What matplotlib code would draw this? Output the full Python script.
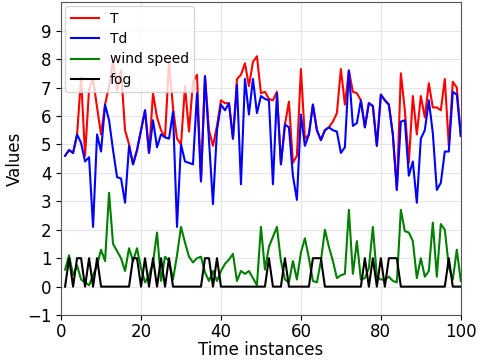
import matplotlib
matplotlib.use("Agg")
import matplotlib.pyplot as plt

# time instances 1..100
time_idx = list(range(1, 101))

T = [4.6, 4.8, 4.7, 5.35, 7.35, 4.6, 6.95, 7.3, 6.3, 5.35,
     6.4, 7.05, 7.95, 6.9, 7.6, 5.5, 5.0, 4.3, 4.8, 5.5,
     6.2, 4.7, 6.8, 5.95, 5.5, 5.25, 7.9, 6.3, 5.2, 5.0,
     7.05, 5.45, 7.2, 7.45, 3.7, 7.4, 5.5, 4.95, 5.65, 6.55,
     6.45, 6.45, 5.2, 7.3, 7.45, 7.85, 7.05, 7.9, 8.1, 6.8,
     6.85, 6.6, 6.55, 6.85, 4.3, 5.7, 6.5, 4.35, 4.6, 7.65,
     5.2, 5.35, 6.4, 5.5, 5.15, 5.5, 5.6, 5.8, 6.1, 7.65,
     6.4, 7.6, 6.85, 6.8, 6.55, 5.6, 6.45, 6.35, 4.95, 6.75,
     6.55, 6.4, 5.35, 3.4, 7.5, 6.2, 4.35, 6.7, 5.35, 6.7,
     5.95, 7.15, 6.3, 6.3, 6.2, 7.3, 4.95, 7.2, 7.0, 5.3]

Td = [4.6, 4.8, 4.7, 5.35, 5.05, 4.4, 4.55, 2.1, 5.35, 4.75,
      6.4, 5.85, 4.8, 3.85, 3.8, 2.95, 4.95, 4.3, 4.8, 5.5,
      6.2, 4.7, 5.85, 4.9, 5.35, 5.25, 5.2, 6.15, 2.1, 5.0,
      4.4, 4.35, 4.3, 6.8, 3.7, 7.4, 5.15, 2.9, 5.5, 6.4,
      6.2, 6.45, 5.2, 7.1, 3.6, 7.3, 6.05, 7.3, 6.1, 6.7,
      6.6, 6.55, 3.6, 6.8, 4.3, 5.7, 5.6, 3.9, 3.05, 6.05,
      4.95, 5.35, 6.4, 5.5, 5.15, 5.5, 5.6, 5.5, 5.45, 4.7,
      4.9, 7.6, 5.65, 5.75, 6.55, 5.6, 6.45, 6.35, 4.95, 6.75,
      6.55, 6.4, 5.35, 3.4, 5.8, 5.85, 3.9, 4.4, 2.95, 5.2,
      5.5, 6.55, 5.4, 3.4, 3.65, 4.75, 4.75, 6.85, 6.75, 5.3]

wind_speed = [0.6, 1.1, 0.4, 0.75, 0.25, 0.15, 0.05, 0.4, 0.75, 1.3,
              0.9, 3.3, 1.5, 1.25, 1.0, 0.55, 1.35, 0.9, 1.35, 0.65,
              0.15, 0.4, 0.85, 1.9, 0.2, 1.05, 0.9, 0.25, 1.1, 2.1,
              1.55, 1.05, 0.85, 1.0, 1.05, 0.5, 0.2, 0.55, 0.2, 0.55,
              0.8, 0.95, 1.15, 0.2, 0.55, 0.45, 0.55, 0.3, 0.05, 2.1,
              0.6, 1.4, 1.75, 2.1, 0.9, 0.25, 0.15, 0.9, 0.25, 1.2,
              1.7, 1.0, 0.2, 0.15, 0.9, 2.0, 1.4, 0.9, 0.3, 0.4,
              0.45, 2.7, 0.45, 1.6, 0.25, 0.3, 0.65, 2.1, 0.35, 0.25,
              0.25, 0.35, 0.2, 0.15, 2.7, 1.95, 1.9, 1.6, 0.3, 1.0,
              0.35, 0.55, 2.25, 0.35, 2.2, 2.0, 0.7, 0.25, 1.3, 0.2]

fog = [0, 1, 0, 1, 1, 0, 1, 0, 1, 0,
       0, 0, 0, 0, 0, 0, 0, 1, 1, 0,
       1, 0, 1, 0, 1, 0, 1, 0, 0, 0,
       0, 0, 0, 0, 0, 1, 1, 0, 1, 0,
       0, 0, 0, 0, 0, 0, 0, 0, 0, 0,
       0, 1, 0, 0, 0, 1, 0, 0, 0, 0,
       0, 0, 1, 1, 1, 0, 0, 0, 0, 0,
       0, 0, 0, 0, 0, 1, 0, 1, 0, 1,
       0, 1, 1, 1, 0, 0, 0, 0, 0, 0,
       0, 0, 0, 0, 0, 0, 1, 0, 0, 0]


def make_graph():
    fig = plt.figure(figsize=(4.81, 3.63), dpi=100)
    ax = fig.add_axes([0.127, 0.132, 0.831, 0.862])

    ax.plot(time_idx, T, color="red", lw=1.5, label="T")
    ax.plot(time_idx, Td, color="blue", lw=1.5, label="Td")
    ax.plot(time_idx, wind_speed, color="green", lw=1.5, label="wind speed")
    ax.plot(time_idx, fog, color="black", lw=1.5, label="fog")

    ax.set_xlim(0, 100)
    ax.set_ylim(-1, 10)
    ax.set_xticks(range(0, 101, 20))
    ax.set_yticks(range(-1, 10))
    ax.tick_params(labelsize=12)
    ax.tick_params(axis="x", pad=2)
    ax.grid(True, color="#e6e6e6", lw=0.8)
    ax.set_axisbelow(True)
    for sp in ax.spines.values():
        sp.set_color("#555555")

    ax.set_xlabel("Time instances", fontsize=12, labelpad=0)
    ax.set_ylabel("Values", fontsize=12, labelpad=2)
    ax.legend(loc="upper left", fontsize=10, borderaxespad=0.3,
              handlelength=2.0, labelspacing=0.45)

    fig.savefig("out.png", dpi=100)


if __name__ == "__main__":
    make_graph()
